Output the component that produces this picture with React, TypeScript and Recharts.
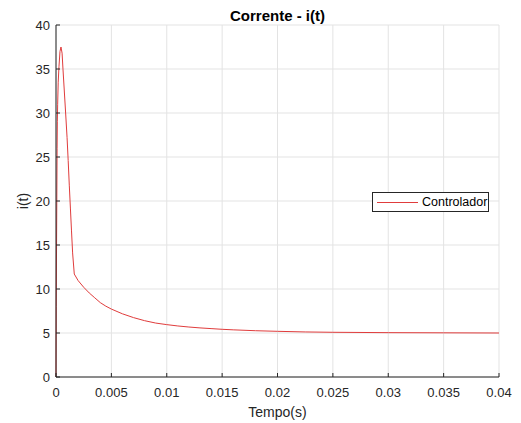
import { LineChart, Line, XAxis, YAxis, CartesianGrid } from "recharts";

// tempo (s) e corrente i(t)
const tempo = [
  0, 0.00002, 0.00005, 0.0001, 0.00012, 0.00015, 0.0002, 0.00027, 0.00036, 0.00045,
  0.00055, 0.00063, 0.00075, 0.00087, 0.001, 0.0011, 0.0012, 0.0013, 0.0014, 0.0015,
  0.00165, 0.002, 0.0025, 0.003, 0.0035, 0.004, 0.0045, 0.005, 0.006, 0.007, 0.008,
  0.009, 0.01, 0.011, 0.012, 0.013, 0.014, 0.015, 0.016, 0.018, 0.02, 0.0225, 0.025,
  0.03, 0.035, 0.04,
];
const corrente = [
  0, 8, 15, 26, 29, 31, 33.5, 35.3, 37, 37.5,
  36.8, 35, 32.5, 30, 27.2, 24.6, 21.8, 19.2, 16.6, 14.1,
  11.7, 10.95, 10.2, 9.55, 9.0, 8.45, 8.05, 7.72, 7.18, 6.75, 6.4,
  6.13, 5.95, 5.8, 5.68, 5.58, 5.5, 5.42, 5.36, 5.26, 5.19, 5.12, 5.08,
  5.04, 5.02, 5.0,
];
const xTicks = [0, 0.005, 0.01, 0.015, 0.02, 0.025, 0.03, 0.035, 0.04];
const yTicks = [0, 5, 10, 15, 20, 25, 30, 35, 40];

const data = tempo.map((t, i) => ({ t, i: corrente[i] }));

const font = "'Liberation Sans', Arial, Helvetica, sans-serif";
const axisColor = "#262626";

function YLabel({ viewBox }: any) {
  const x = viewBox.x + 15;
  const y = viewBox.y + viewBox.height / 2;
  return (
    <text
      x={x}
      y={y}
      transform={`rotate(-90 ${x} ${y})`}
      textAnchor="middle"
      dominantBaseline="central"
      fontSize={14}
      fill={axisColor}
      fontFamily={font}
    >
      i(t)
    </text>
  );
}

export default function App() {
  return (
    <div style={{ position: "relative", width: 513, height: 415, background: "#fff", fontFamily: font }}>
      <div
        style={{
          position: "absolute",
          left: 48,
          width: 443,
          top: 0,
          textAlign: "center",
          fontWeight: "bold",
          fontSize: 15,
          lineHeight: "15px",
          color: "#000",
        }}
      >
        Corrente - i(t)
      </div>
      <LineChart width={513} height={415} data={data} margin={{ top: 17, right: 22, bottom: 0, left: 0 }}>
        <CartesianGrid stroke="#e3e3e3" />
        <XAxis
          dataKey="t"
          type="number"
          domain={[0, 0.04]}
          ticks={xTicks}
          height={46}
          stroke={axisColor}
          tickSize={-4}
          tickMargin={15}
          tick={{ fontSize: 13, fill: axisColor, fontFamily: font }}
          label={{ value: "Tempo(s)", position: "insideBottom", offset: 6, fontSize: 14, fill: axisColor, fontFamily: font }}
        />
        <YAxis
          type="number"
          domain={[0, 40]}
          ticks={yTicks}
          width={48}
          stroke={axisColor}
          tickSize={-4}
          tickMargin={10}
          tick={{ fontSize: 13, fill: axisColor, fontFamily: font }}
          label={<YLabel />}
        />
        <Line
          type="linear"
          dataKey="i"
          stroke="#e03c3c"
          strokeWidth={1}
          dot={false}
          isAnimationActive={false}
        />
      </LineChart>
      <div
        style={{
          position: "absolute",
          left: 364,
          top: 184,
          width: 115,
          height: 18,
          border: "1px solid #262626",
          background: "#fff",
          display: "flex",
          alignItems: "center",
          fontSize: 12.5,
          color: "#000",
        }}
      >
        <span style={{ display: "inline-block", width: 41, height: 1, background: "#e03c3c", marginLeft: 4, marginRight: 4 }} />
        <span>Controlador</span>
      </div>
    </div>
  );
}
